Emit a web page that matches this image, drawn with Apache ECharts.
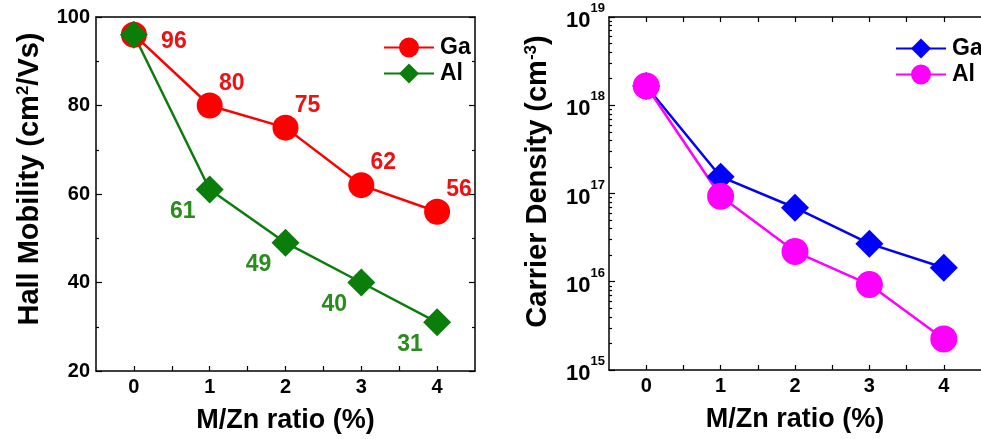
<!DOCTYPE html>
<html>
<head>
<meta charset="utf-8">
<script src="https://cdn.jsdelivr.net/npm/echarts@6/dist/echarts.min.js"></script>
<style>
  html, body { margin: 0; padding: 0; background: #fff; }
  #chart { width: 981px; height: 439px; }
</style>
</head>
<body>
<div id="chart"></div>
<script>
// data
const ratio = [0, 1, 2, 3, 4];
const gaMobility = [96, 80, 75, 62, 56];
const alMobility = [96, 61, 49, 40, 31];
const gaDensity = [1.65e18, 1.55e17, 6.9e16, 2.7e16, 1.44e16];
const alDensity = [1.65e18, 9.3e16, 2.2e16, 9.3e15, 2.25e15];

// tick labels
const ratioTicks = [0, 1, 2, 3, 4];
const ratioMinor = [0, 0.5, 1, 1.5, 2, 2.5, 3, 3.5, 4];
const mobilityTicks = [20, 40, 60, 80, 100];
const densityTicks = [1e15, 1e16, 1e17, 1e18, 1e19];

const FONT = 'Liberation Sans';
const RED = '#ff0000', GREEN = '#0b7d0b', BLUE = '#0000ff', MAGENTA = '#ff00ff';

// log minor ticks 2..9 per decade
const densityMinor = [];
densityTicks.slice(0, -1).forEach(d => {
  for (let k = 2; k <= 9; k++) densityMinor.push(d * k);
});

let myChart = echarts.init(document.getElementById('chart'));

const axisLine = { show: true, onZero: false, lineStyle: { color: '#000', width: 1.5 } };
const tickIn = (len, values) => ({
  show: true, inside: true, length: len, customValues: values,
  lineStyle: { color: '#000', width: 1.2 }
});
const tickLabel = {
  color: '#000', fontFamily: FONT, fontWeight: 'bold', fontSize: 20, margin: 6
};
const nameStyle = (size, pad) => ({
  color: '#000', fontFamily: FONT, fontWeight: 'bold', fontSize: size,
  padding: pad,
  rich: {
    sup: { fontFamily: FONT, fontWeight: 'bold', fontSize: 17, verticalAlign: 'top', lineHeight: 12, color: '#000' }
  }
});

const valueLabel = (color, offset) => ({
  show: true, position: 'inside', offset: offset,
  color: color, fontFamily: FONT, fontWeight: 'bold', fontSize: 23
});

const gaMobData = ratio.map((x, i) => ({
  value: [x, gaMobility[i]],
  label: valueLabel('#ee1111', i === 0 ? [40, 7] : [22, -22])
}));
const alMobData = ratio.map((x, i) => ({
  value: [x, alMobility[i]],
  label: i === 0 ? { show: false } : valueLabel('#2a8c1c', [-27, 22])
}));

const option = {
  animation: false,
  backgroundColor: '#fff',
  grid: [
    { left: 96, top: 17, width: 379, height: 355 },
    { left: 609, top: 17, width: 380, height: 353 }
  ],
  legend: [
    {
      data: ['Ga mobility', 'Al mobility'],
      orient: 'vertical', left: 378, top: 31,
      itemWidth: 50, itemHeight: 25, itemGap: 3,
      formatter: n => n.split(' ')[0],
      textStyle: { color: '#000', fontFamily: FONT, fontWeight: 'bold', fontSize: 23, padding: [0, 0, 0, 1] }
    },
    {
      data: ['Ga density', 'Al density'],
      orient: 'vertical', left: 890, top: 32,
      itemWidth: 50, itemHeight: 25, itemGap: 3,
      formatter: n => n.split(' ')[0],
      textStyle: { color: '#000', fontFamily: FONT, fontWeight: 'bold', fontSize: 23, padding: [0, 0, 0, 1] }
    }
  ],
  xAxis: [
    {
      gridIndex: 0, type: 'value', min: -0.5, max: 4.5, position: 'bottom',
      axisLine: axisLine, splitLine: { show: false },
      axisTick: tickIn(5, ratioMinor),
      axisLabel: Object.assign({ customValues: ratioTicks }, tickLabel),
      name: 'M/Zn ratio (%)', nameLocation: 'middle', nameGap: 36,
      nameTextStyle: nameStyle(27, 0)
    },
    {
      gridIndex: 0, type: 'value', min: -0.5, max: 4.5, position: 'top',
      axisLine: axisLine, splitLine: { show: false },
      axisTick: { show: false }, axisLabel: { show: false }
    },
    {
      gridIndex: 1, type: 'value', min: -0.5, max: 4.5, position: 'bottom',
      axisLine: axisLine, splitLine: { show: false },
      axisTick: tickIn(5, ratioMinor),
      axisLabel: Object.assign({ customValues: ratioTicks }, tickLabel),
      name: 'M/Zn ratio (%)', nameLocation: 'middle', nameGap: 36,
      nameTextStyle: nameStyle(27, 0)
    },
    {
      gridIndex: 1, type: 'value', min: -0.5, max: 4.5, position: 'top',
      axisLine: axisLine, splitLine: { show: false },
      axisTick: tickIn(5, ratioMinor), axisLabel: { show: false }
    }
  ],
  yAxis: [
    {
      gridIndex: 0, type: 'value', min: 20, max: 100, interval: 20, position: 'left',
      axisLine: axisLine, splitLine: { show: false },
      axisTick: { show: true, inside: true, length: 6, lineStyle: { color: '#000', width: 1.2 } },
      minorTick: { show: true, splitNumber: 2, length: 3, lineStyle: { color: '#000', width: 1.2 } },
      axisLabel: tickLabel,
      name: 'Hall Mobility (cm{sup|2}/Vs)', nameLocation: 'middle', nameGap: 52,
      nameTextStyle: nameStyle(29, [0, 0, 0, 30])
    },
    {
      gridIndex: 0, type: 'value', min: 20, max: 100, interval: 20, position: 'right',
      axisLine: axisLine, splitLine: { show: false },
      axisTick: { show: true, inside: true, length: 6, lineStyle: { color: '#000', width: 1.2 } },
      minorTick: { show: true, splitNumber: 2, length: 3, lineStyle: { color: '#000', width: 1.2 } },
      axisLabel: { show: false }
    },
    {
      gridIndex: 1, type: 'log', logBase: 10, min: 1e15, max: 1e19, position: 'left',
      axisLine: axisLine, splitLine: { show: false },
      axisTick: tickIn(6, densityTicks),
      axisLabel: {
        customValues: densityTicks, color: '#000', margin: 4,
        formatter: v => '{b|10}{s|' + Math.round(Math.log10(v)) + '}',
        rich: {
          b: { fontFamily: FONT, fontWeight: 'bold', fontSize: 22, lineHeight: 30, verticalAlign: 'bottom', color: '#000' },
          s: { fontFamily: FONT, fontWeight: 'bold', fontSize: 13, lineHeight: 14, verticalAlign: 'top', color: '#000' }
        }
      },
      name: 'Carrier Density (cm{sup|-3})', nameLocation: 'middle', nameGap: 57,
      nameTextStyle: nameStyle(29, [0, 0, 0, 24])
    },
    {
      gridIndex: 1, type: 'log', logBase: 10, min: 1e15, max: 1e19, position: 'left',
      axisLine: { show: false, onZero: false }, splitLine: { show: false },
      axisTick: tickIn(3, densityMinor), axisLabel: { show: false }
    }
  ],
  series: [
    {
      name: 'Ga mobility', type: 'line', xAxisIndex: 0, yAxisIndex: 0,
      data: gaMobData, symbol: 'circle', symbolSize: 26,
      lineStyle: { color: RED, width: 2.5 }, itemStyle: { color: RED }
    },
    {
      name: 'Al mobility', type: 'line', xAxisIndex: 0, yAxisIndex: 0,
      data: alMobData, symbol: 'diamond', symbolSize: 28,
      lineStyle: { color: GREEN, width: 2.5 }, itemStyle: { color: GREEN }
    },
    {
      name: 'Ga density', type: 'line', xAxisIndex: 2, yAxisIndex: 2,
      data: ratio.map((x, i) => [x, gaDensity[i]]), symbol: 'diamond', symbolSize: 28,
      lineStyle: { color: BLUE, width: 2.5 }, itemStyle: { color: BLUE }
    },
    {
      name: 'Al density', type: 'line', xAxisIndex: 2, yAxisIndex: 2,
      data: ratio.map((x, i) => [x, alDensity[i]]), symbol: 'circle', symbolSize: 27,
      lineStyle: { color: MAGENTA, width: 2.5 }, itemStyle: { color: MAGENTA }
    }
  ]
};

myChart.setOption(option);
</script>
</body>
</html>
